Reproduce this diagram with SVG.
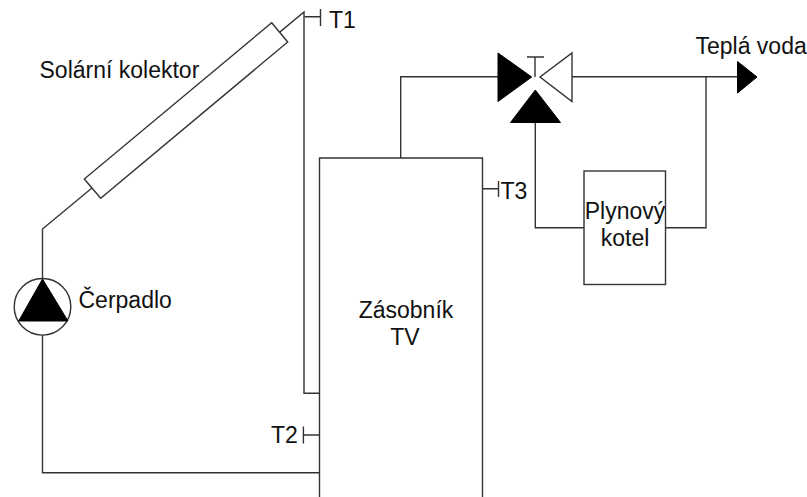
<svg xmlns="http://www.w3.org/2000/svg" width="807" height="497" viewBox="0 0 807 497">
<style>
.l{fill:none;stroke:#333;stroke-width:1.4;stroke-linejoin:miter}
.b{fill:#000;stroke:#000;stroke-width:1;stroke-linejoin:round}
.o{fill:#fff;stroke:#333;stroke-width:1.4}
text{font-family:"Liberation Sans",Arial,sans-serif;font-size:23px;fill:#111}
</style>
<rect width="807" height="497" fill="#fff"/>
<g id="connectors">
<path class="l" d="M319.5 393.3H304V12L42.5 229V279"/>
<path class="l" d="M42.5 335V472.7H319.5"/>
<path class="l" d="M400.7 158V76.7H498"/>
<path class="l" d="M572 76.7H738"/>
<path class="l" d="M535.3 122V227.7H584"/>
<path class="l" d="M665.5 227.7H706V76.7"/>
</g>
<g id="collector">
<polygon class="o" points="271.7,22.7 287.7,42 100.7,198.3 84.3,179"/>
<text x="39.5" y="78">Solární kolektor</text>
</g>
<g id="pump">
<circle class="o" cx="42.5" cy="306.8" r="28.3"/>
<polygon class="b" points="42.5,279 68,321 18.7,321"/>
<text x="78.5" y="308">Čerpadlo</text>
</g>
<g id="tank">
<path class="o" d="M319.5 497V158H482.5V497"/>
<text x="406" y="318" text-anchor="middle">Zásobník</text>
<text x="405" y="345" text-anchor="middle">TV</text>
</g>
<g id="t1">
<path class="l" d="M304.5 16.7H320.5M320.5 9V26"/>
<text x="329" y="27.5">T1</text>
</g>
<g id="t2">
<path class="l" d="M319.5 435H303.4M303.4 426.5V443.5"/>
<text x="271" y="443">T2</text>
</g>
<g id="t3">
<path class="l" d="M482.5 188.7H498.5M498.5 181V197"/>
<text x="500.5" y="199">T3</text>
</g>
<g id="valve">
<polygon class="b" points="498,53 498,101.5 531.7,77"/>
<polygon class="o" points="572,53 572,101.5 540,77"/>
<path class="l" d="M535 77V57M527 57H544"/>
<polygon class="b" points="535.3,90 560.5,122.5 510.5,122.5"/>
</g>
<g id="boiler">
<rect class="o" x="584" y="171" width="81.5" height="113.5"/>
<text x="625" y="218.5" text-anchor="middle">Plynový</text>
<text x="625" y="246" text-anchor="middle">kotel</text>
</g>
<g id="hot-water">
<polygon class="b" points="737.5,61.5 737.5,93 757,77"/>
<text x="695.5" y="53.5">Teplá voda</text>
</g>
</svg>
